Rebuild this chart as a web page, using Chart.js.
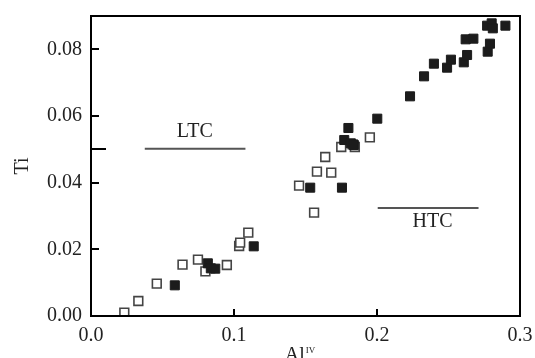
<!DOCTYPE html>
<html>
<head>
<meta charset="utf-8">
<script src="https://cdn.jsdelivr.net/npm/chart.js@4/dist/chart.umd.min.js"></script>
<style>
html,body{margin:0;padding:0;background:#fff;}
#wrap{width:535px;height:358px;position:relative;}
</style>
</head>
<body>
<div id="wrap"><canvas id="c" width="535" height="358"></canvas></div>
<script>
// ---- data ----
const openAl = [0.0233,0.0331,0.046,0.064,0.0748,0.080,0.095,0.1036,0.1043,0.110,0.1455,0.156,0.158,0.1638,0.168,0.175,0.1845,0.1830,0.195];
const openTi = [0.001,0.0045,0.0097,0.0154,0.0169,0.0134,0.0153,0.0210,0.0220,0.0250,0.0391,0.0310,0.0433,0.0477,0.0430,0.0507,0.0507,0.0515,0.0536];
const filledAl = [0.0586,0.0817,0.0838,0.0869,0.1138,0.1533,0.1755,0.1771,0.1800,0.1817,0.1838,0.2002,0.2231,0.2329,0.2398,0.2490,0.2517,0.2607,0.2630,0.2620,0.2674,0.2774,0.2790,0.2770,0.2802,0.2810,0.2898];
const filledTi = [0.0092,0.0158,0.0143,0.0142,0.0209,0.0385,0.0385,0.0528,0.0564,0.0518,0.0513,0.0592,0.0659,0.0719,0.0757,0.0745,0.0769,0.0761,0.0783,0.0830,0.0832,0.0793,0.0817,0.0871,0.0878,0.0863,0.0871];
const ltcLineX = [0.0376,0.108];
const ltcLineY = [0.0502,0.0502];
const htcLineX = [0.2005,0.271];
const htcLineY = [0.0324,0.0324];
const labelTexts = ['LTC','HTC'];
const labelX = [0.0726,0.2388];
const labelY = [0.0553,0.0283];
const xTicks = [0.0,0.1,0.2,0.3];
const yTicks = [0.00,0.02,0.04,0.06,0.08];
const yExtraTick = [0.05];
const xTitleMain = 'Al';
const xTitleSup = 'IV';
const yTitle = 'Ti';

const pts = (xs, ys) => xs.map((x,i)=>({x:x,y:ys[i]}));
const FONT = "'Liberation Serif','DejaVu Serif',serif";
const TXT = '#222';

const framePlugin = {
  id:'frame',
  afterDatasetsDraw(chart){
    const ctx = chart.ctx, a = chart.chartArea;
    const xs = chart.scales.x, ys = chart.scales.y;
    ctx.save();
    // annotation labels
    ctx.fillStyle = TXT;
    ctx.font = "20px " + FONT;
    ctx.textAlign = 'center';
    ctx.textBaseline = 'middle';
    labelTexts.forEach((t,i)=>{
      ctx.fillText(t, xs.getPixelForValue(labelX[i]), ys.getPixelForValue(labelY[i]));
    });
    // frame
    ctx.strokeStyle = '#000';
    ctx.lineWidth = 2;
    ctx.strokeRect(a.left, a.top, a.right-a.left, a.bottom-a.top);
    // inward ticks
    ctx.beginPath();
    xTicks.forEach(v=>{
      const p = Math.round(xs.getPixelForValue(v));
      ctx.moveTo(p, a.bottom); ctx.lineTo(p, a.bottom-7);
    });
    yTicks.forEach(v=>{
      const p = Math.round(ys.getPixelForValue(v));
      ctx.moveTo(a.left, p); ctx.lineTo(a.left+8, p);
    });
    yExtraTick.forEach(v=>{
      const p = Math.round(ys.getPixelForValue(v));
      ctx.moveTo(a.left, p); ctx.lineTo(a.left+15, p);
    });
    ctx.stroke();
    // x title with superscript
    ctx.textAlign = 'left';
    ctx.textBaseline = 'alphabetic';
    ctx.font = "20px " + FONT;
    const wMain = ctx.measureText(xTitleMain).width;
    ctx.font = "9px " + FONT;
    const wSup = ctx.measureText(xTitleSup).width;
    const cx = (a.left + a.right)/2 - 6;
    const x0 = cx - (wMain + wSup)/2;
    ctx.font = "20px " + FONT;
    ctx.fillText(xTitleMain, x0, 361);
    ctx.font = "9px " + FONT;
    ctx.fillText(xTitleSup, x0 + wMain + 1, 353);
    ctx.restore();
  }
};

function zeroPad(s){ s.paddingLeft = 0; s.paddingRight = 0; s.paddingTop = 0; s.paddingBottom = 0; }

new Chart(document.getElementById('c'), {
  type:'scatter',
  data:{
    datasets:[
      {label:'filled', data:pts(filledAl, filledTi), pointStyle:'rect', pointRadius:6.4, pointHoverRadius:6.4,
       backgroundColor:'#1c1c1c', borderColor:'#1c1c1c', borderWidth:1},
      {label:'open', data:pts(openAl, openTi), pointStyle:'rect', pointRadius:6.2, pointHoverRadius:6.2,
       backgroundColor:'#fff', borderColor:'#444', borderWidth:1.6},
      {label:'LTC', type:'line', data:pts(ltcLineX, ltcLineY), showLine:true, pointRadius:0, borderColor:'#555', borderWidth:2},
      {label:'HTC', type:'line', data:pts(htcLineX, htcLineY), showLine:true, pointRadius:0, borderColor:'#555', borderWidth:2}
    ]
  },
  plugins:[framePlugin],
  options:{
    responsive:false,
    animation:false,
    layout:{padding:{top:16,right:15,left:0,bottom:0}},
    plugins:{legend:{display:false},tooltip:{enabled:false}},
    scales:{
      x:{
        type:'linear', min:0, max:0.3,
        afterBuildTicks(s){ s.ticks = xTicks.map(v=>({value:v})); },
        afterFit(s){ s.height = 42; zeroPad(s); },
        grid:{display:false, drawTicks:false},
        border:{display:false},
        ticks:{color:TXT, padding:8, font:{family:FONT, size:20}, maxRotation:0,
          callback:(v)=>Number(v).toFixed(1)}
      },
      y:{
        type:'linear', min:0, max:0.09,
        afterBuildTicks(s){ s.ticks = yTicks.map(v=>({value:v})); },
        afterFit(s){ s.width = 91; zeroPad(s); },
        grid:{display:false, drawTicks:false},
        border:{display:false},
        title:{display:true, text:yTitle, color:TXT, font:{family:FONT, size:20}, padding:{top:11,bottom:0}},
        ticks:{color:TXT, padding:9, font:{family:FONT, size:20},
          callback:(v)=>Number(v).toFixed(2)}
      }
    }
  }
});
</script>
</body>
</html>
